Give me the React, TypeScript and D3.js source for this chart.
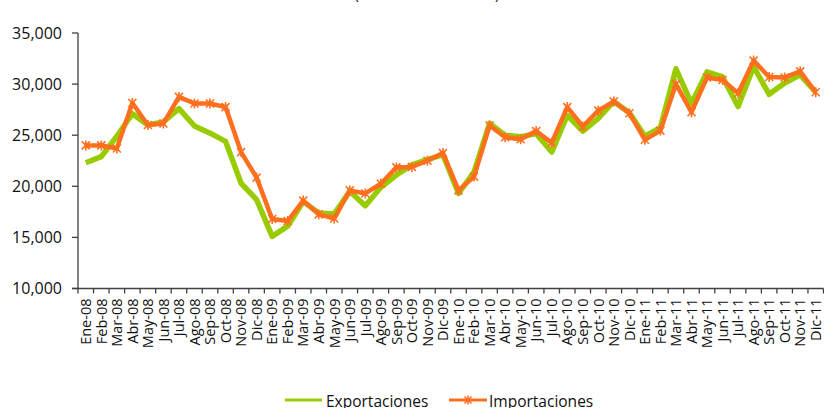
import React from 'react';
import * as d3 from 'd3';

const months = [
  'Ene-08', 'Feb-08', 'Mar-08', 'Abr-08', 'May-08', 'Jun-08', 'Jul-08', 'Ago-08', 'Sep-08', 'Oct-08', 'Nov-08', 'Dic-08',
  'Ene-09', 'Feb-09', 'Mar-09', 'Abr-09', 'May-09', 'Jun-09', 'Jul-09', 'Ago-09', 'Sep-09', 'Oct-09', 'Nov-09', 'Dic-09',
  'Ene-10', 'Feb-10', 'Mar-10', 'Abr-10', 'May-10', 'Jun-10', 'Jul-10', 'Ago-10', 'Sep-10', 'Oct-10', 'Nov-10', 'Dic-10',
  'Ene-11', 'Feb-11', 'Mar-11', 'Abr-11', 'May-11', 'Jun-11', 'Jul-11', 'Ago-11', 'Sep-11', 'Oct-11', 'Nov-11', 'Dic-11',
];

const exportaciones = [
  22300, 22900, 24900, 27100, 26000, 26300, 27600, 25900, 25200, 24400, 20300, 18700,
  15100, 16100, 18500, 17400, 17300, 19500, 18100, 19900, 21100, 22100, 22600, 23100,
  19300, 21400, 26150, 25000, 24850, 25150, 23350, 26950, 25400, 26650, 28300, 27200,
  24900, 25750, 31500, 28100, 31200, 30700, 27800, 31700, 29000, 30100, 30900, 29200,
];

const importaciones = [
  24000, 24000, 23700, 28150, 26000, 26150, 28750, 28100, 28100, 27750, 23350, 20850,
  16800, 16600, 18600, 17250, 16850, 19600, 19300, 20250, 21850, 21900, 22500, 23250,
  19600, 20950, 25950, 24800, 24600, 25400, 24250, 27750, 25850, 27400, 28300, 27150,
  24550, 25450, 30000, 27250, 30650, 30400, 29100, 32300, 30700, 30650, 31250, 29200,
];

const yTicks = [10000, 15000, 20000, 25000, 30000, 35000];

const W = 824;
const H = 408;
const left = 78;
const right = 823.5;
const top = 33;
const bottom = 288.5;

const FONT = '"Open Sans", sans-serif';
const GREEN = '#99CC00';
const ORANGE = '#FF6F1E';
const AXIS = '#404040';
const TEXT = '#111';

const x = d3.scaleBand<string>().domain(months).range([left, right]);
const y = d3.scaleLinear().domain([10000, 35000]).range([bottom, top]);
const fmt = d3.format(',');

const cx = (m: string) => (x(m) as number) + x.bandwidth() / 2;

// Excel-style star marker: an x crossed by a vertical bar
const starPath = (px: number, py: number, r = 4) =>
  `M${px - r},${py - r}L${px + r},${py + r}M${px - r},${py + r}L${px + r},${py - r}M${px},${py - r - 1}L${px},${py + r + 1}`;

export default function App() {
  const line = d3.line<number>()
    .x((_, i) => cx(months[i]))
    .y(d => y(d));

  return (
    <div style={{ position: 'absolute', left: 0, top: 0 }}>
      <svg width={W} height={H} style={{ display: 'block', fontFamily: FONT }}>
        <rect width={W} height={H} fill="#fff" />

        {/* title, mostly cut off at the top as in the source */}
        <text x={427} y={-1} textAnchor="middle" fontSize={15} fill={TEXT}>(Millones de dólares)</text>

        {/* y axis */}
        <line x1={left} x2={left} y1={top} y2={bottom} stroke={AXIS} strokeWidth={1.3} />
        {yTicks.map(t => (
          <g key={t}>
            <line x1={left - 6} x2={left} y1={y(t)} y2={y(t)} stroke={AXIS} strokeWidth={1.3} />
            <text x={62} y={y(t)} dy="0.36em" textAnchor="end" fontSize={16} fill={TEXT}>{fmt(t)}</text>
          </g>
        ))}

        {/* x axis */}
        <line x1={left - 6} x2={right} y1={bottom} y2={bottom} stroke={AXIS} strokeWidth={1.3} />
        {months.map(m => (
          <line key={'t' + m} x1={x(m) as number} x2={x(m) as number} y1={bottom} y2={bottom + 5} stroke={AXIS} strokeWidth={1.3} />
        ))}
        <line x1={right} x2={right} y1={bottom} y2={bottom + 5} stroke={AXIS} strokeWidth={1.3} />
        {months.map(m => (
          <text key={'l' + m} transform={`translate(${cx(m)},${bottom + 10}) rotate(-90)`} dy="0.36em"
            textAnchor="end" fontSize={14.5} fill={TEXT}>{m}</text>
        ))}

        {/* series */}
        <path d={line(exportaciones) || ''} fill="none" stroke={GREEN} strokeWidth={5.5} strokeLinejoin="round" />
        <path d={line(importaciones) || ''} fill="none" stroke={ORANGE} strokeWidth={4.5} strokeLinejoin="round" />
        {importaciones.map((v, i) => (
          <path key={'m' + i} d={starPath(cx(months[i]), y(v))} stroke={ORANGE} strokeWidth={1.6} fill="none" />
        ))}

        {/* legend */}
        <line x1={285} x2={322} y1={400} y2={400} stroke={GREEN} strokeWidth={3} />
        <text x={326} y={407} fontSize={15.5} fill={TEXT}>Exportaciones</text>
        <line x1={449} x2={487} y1={400} y2={400} stroke={ORANGE} strokeWidth={3} />
        <path d={starPath(468, 400, 3.5)} stroke={ORANGE} strokeWidth={1.5} fill="none" />
        <text x={489} y={407} fontSize={15.5} fill={TEXT}>Importaciones</text>
      </svg>
    </div>
  );
}
